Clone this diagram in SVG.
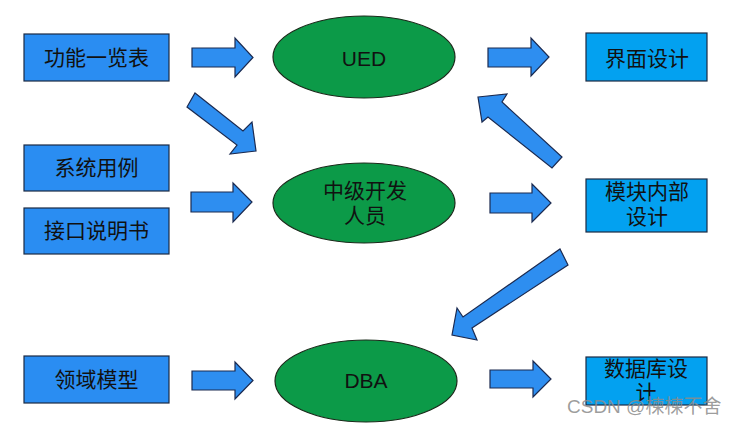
<svg xmlns="http://www.w3.org/2000/svg" width="735" height="425" viewBox="0 0 735 425">
<style>
.src{fill:#2a8df2;stroke:#1b2a44;stroke-width:1.2}
.dst{fill:#03a1f0;stroke:#1b2a44;stroke-width:1.2}
.ell{fill:#0c9a48;stroke:#1a2a1a;stroke-width:1.2}
.arr{fill:#2e8ef0;stroke:#1b2a50;stroke-width:1.2;stroke-linejoin:miter}
text{font-family:"Liberation Sans","Noto Sans CJK SC",sans-serif;font-size:21px;fill:#111;text-anchor:middle}
.wm{font-size:19px;fill:#8c8c8c;fill-opacity:0.85;text-anchor:start}
</style>
<rect width="735" height="425" fill="#ffffff"/>
<g id="n-gongneng"><rect class="src" x="24" y="34" width="145" height="47"/><text x="96.5" y="65">功能一览表</text></g>
<g id="n-xitong"><rect class="src" x="24" y="145" width="145" height="46"/><text x="96.5" y="175">系统用例</text></g>
<g id="n-jiekou"><rect class="src" x="24" y="208" width="145" height="46"/><text x="96.5" y="238">接口说明书</text></g>
<g id="n-lingyu"><rect class="src" x="24" y="356" width="145" height="47"/><text x="96.5" y="387">领域模型</text></g>
<g id="n-ued"><ellipse class="ell" cx="364" cy="57" rx="91" ry="41"/><text x="364" y="66">UED</text></g>
<g id="n-zhongji"><ellipse class="ell" cx="364" cy="203" rx="91" ry="40"/><text x="365" y="198">中级开发</text><text x="365" y="223">人员</text></g>
<g id="n-dba"><ellipse class="ell" cx="366" cy="381" rx="91" ry="41"/><text x="366" y="388">DBA</text></g>
<g id="n-jiemian"><rect class="dst" x="586" y="33" width="121" height="48"/><text x="647" y="66">界面设计</text></g>
<g id="n-mokuai"><rect class="dst" x="586" y="179" width="121" height="53"/><text x="647" y="199">模块内部</text><text x="647" y="224">设计</text></g>
<g id="n-shujuku"><rect class="dst" x="586" y="357" width="121" height="48"/><text x="646" y="376">数据库设</text><text x="646" y="400">计</text></g>
<g id="connectors">
<polygon class="arr" points="192,48 235,48 235,38 253,57.5 235,77 235,67 192,67"/>
<polygon class="arr" points="191,192 233,192 233,183 252,202 233,222 233,212 191,212"/>
<polygon class="arr" points="192,371 235,371 235,362 253,380.5 235,399 235,390 192,390"/>
<polygon class="arr" points="488,48 531,48 531,38 549,57 531,76 531,67 488,67"/>
<polygon class="arr" points="490,193 532,193 532,184 551,203 532,222 532,213 490,213"/>
<polygon class="arr" points="490,370 533,370 533,361 551,379 533,397 533,388 490,388"/>
<polygon class="arr" points="195,93 243,131 252,122 256,151 230,154 237,145 187,107"/>
<polygon class="arr" points="478,97 507,94 502,102 562,157 552,168 488,117 482,122"/>
<polygon class="arr" points="560,249 568,265 472,328 477,340 452,335 457,308 463,317"/>
</g>
<text class="wm" x="567" y="413">CSDN @楝楝不舍</text>
</svg>
